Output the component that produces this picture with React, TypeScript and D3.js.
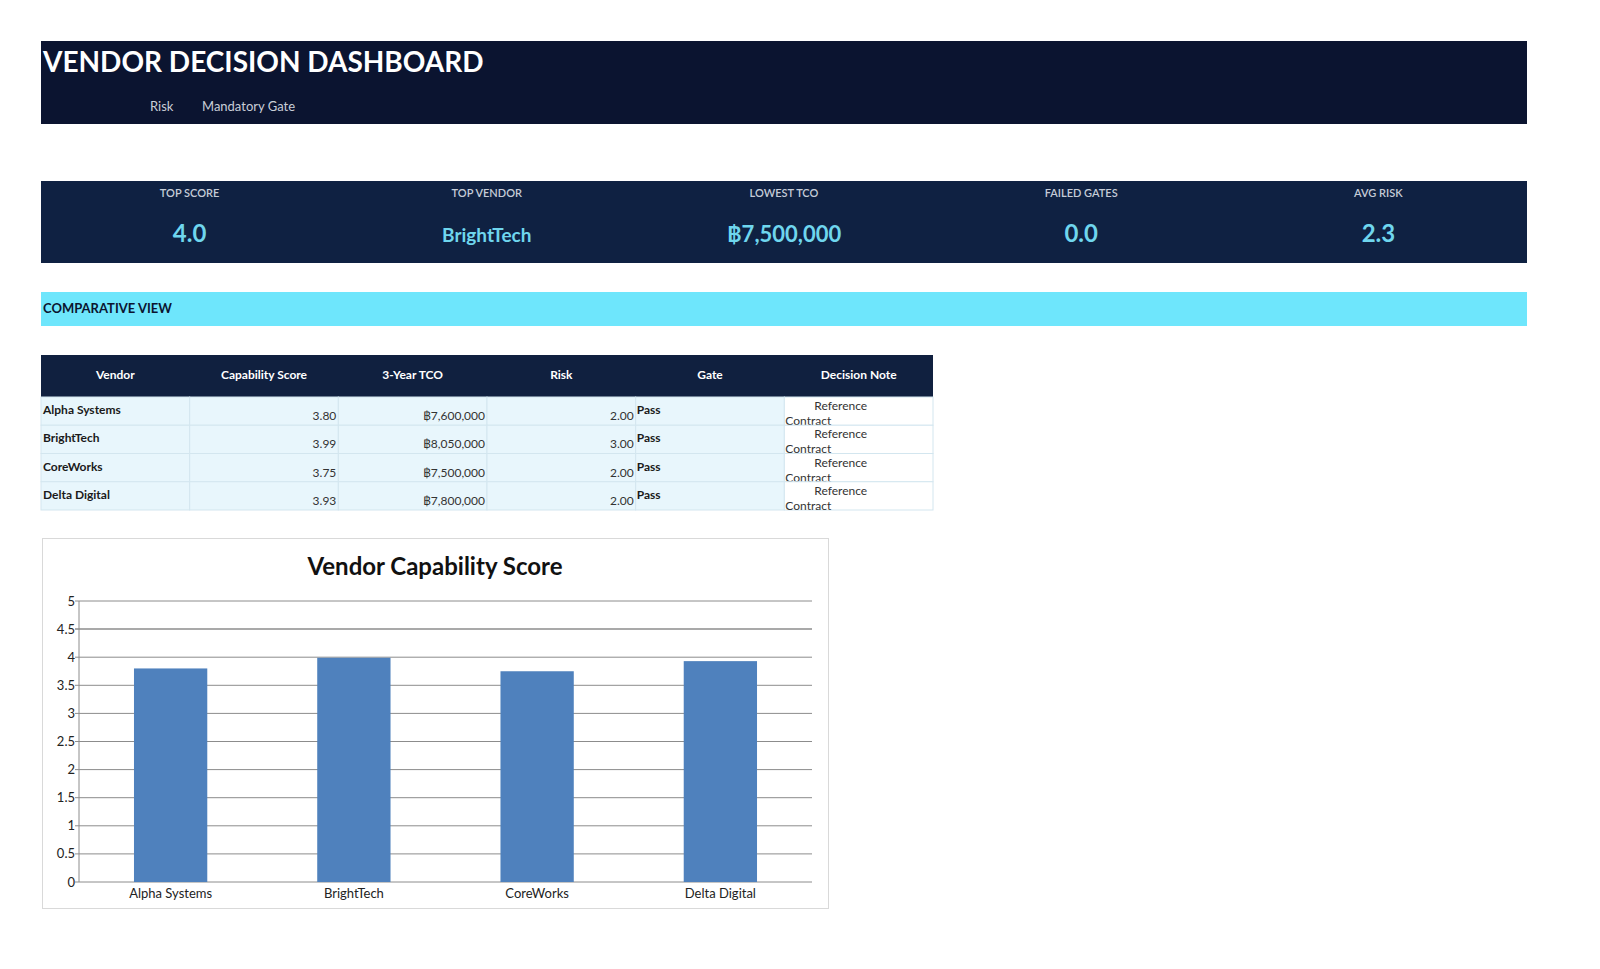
import React from "react";
import * as d3 from "d3";

const vendors = ["Alpha Systems", "BrightTech", "CoreWorks", "Delta Digital"];
const capabilityScores = [3.8, 3.99, 3.75, 3.93];
const tco = [7600000, 8050000, 7500000, 7800000];
const risk = [2.0, 3.0, 2.0, 2.0];
const gates = ["Pass", "Pass", "Pass", "Pass"];
const notes = ["Reference Contract", "Reference Contract", "Reference Contract", "Reference Contract"];
const tableHeaders = ["Vendor", "Capability Score", "3-Year TCO", "Risk", "Gate", "Decision Note"];
const kpiLabels = ["TOP SCORE", "TOP VENDOR", "LOWEST TCO", "FAILED GATES", "AVG RISK"];
const kpiValues = ["4.0", "BrightTech", "฿7,500,000", "0.0", "2.3"];
const headerLinks = ["Risk", "Mandatory Gate"];
const yTicks = [0, 0.5, 1, 1.5, 2, 2.5, 3, 3.5, 4, 4.5, 5];

const FONT = "Lato, 'Open Sans', sans-serif";
const fmtTco = (v: number) => "฿" + d3.format(",")(v);

export default function App() {
  const L = 41, R = 1527;
  const kpiX = d3.scaleBand<number>().domain(d3.range(5)).range([L, R]);
  const colX = d3.scaleBand<number>().domain(d3.range(6)).range([41, 933]);
  const rowY = d3.scaleBand<number>().domain(d3.range(4)).range([397, 510]);

  const plot = { x0: 79, x1: 812, y0: 601, y1: 882 };
  const x = d3.scaleBand<string>().domain(vendors).range([plot.x0, plot.x1]).paddingInner(0.6).paddingOuter(0.3);
  const y = d3.scaleLinear().domain([0, 5]).range([plot.y1, plot.y0]);

  return (
    <svg width={1600} height={969} style={{ position: "absolute", left: 0, top: 0, fontFamily: FONT }}>
      <rect width={1600} height={969} fill="#ffffff" />
      {/* Header banner */}
      <rect x={L} y={41} width={R - L} height={83} fill="#0b1430" />
      <text x={43} y={72} fill="#ffffff" fontSize={28} fontWeight={700}>VENDOR DECISION DASHBOARD</text>
      <text x={150} y={111} fill="#c9ced8" fontSize={13}>{headerLinks[0]}</text>
      <text x={202} y={111} fill="#c9ced8" fontSize={13}>{headerLinks[1]}</text>

      {/* KPI band */}
      <rect x={L} y={181} width={R - L} height={82} fill="#0f2142" />
      {kpiLabels.map((lab, i) => {
        const cx = kpiX(i)! + kpiX.bandwidth() / 2;
        return (
          <g key={lab}>
            <text x={cx} y={197} textAnchor="middle" fill="#c5ccd8" fontSize={11} fontWeight={600}>{lab}</text>
            <text x={cx} y={242} textAnchor="middle" fill="#6fd6ee" fontSize={i === 1 ? 19 : i === 2 ? 22 : 24} fontWeight={700}>{kpiValues[i]}</text>
          </g>
        );
      })}

      {/* Comparative view */}
      <rect x={L} y={292} width={R - L} height={34} fill="#6ee6fc" />
      <text x={43} y={313} fill="#0b1430" fontSize={13} fontWeight={700}>COMPARATIVE VIEW</text>

      {/* Table header */}
      <rect x={41} y={355} width={892} height={42} fill="#10203f" />
      {tableHeaders.map((h, i) => (
        <text key={h} x={colX(i)! + colX.bandwidth() / 2} y={379} textAnchor="middle" fill="#ffffff" fontSize={12} fontWeight={700}>{h}</text>
      ))}
      {/* Table rows */}
      {vendors.map((v, r) => {
        const ry = rowY(r)!;
        const rh = rowY.bandwidth();
        const cells = [v, capabilityScores[r].toFixed(2), fmtTco(tco[r]), risk[r].toFixed(2), gates[r], notes[r]];
        return (
          <g key={v}>
            {cells.map((c, i) => (
              <rect key={i} x={colX(i)!} y={ry} width={colX.bandwidth()} height={rh} fill={i === 5 ? "#ffffff" : "#e8f6fc"} stroke="#d3e6ef" strokeWidth={1} />
            ))}
            <text x={43} y={ry + 17} fontSize={12} fontWeight={700} fill="#1a1a1a">{v}</text>
            <text x={colX(1)! + colX.bandwidth() - 2} y={ry + 23} textAnchor="end" fontSize={12} fill="#333">{cells[1]}</text>
            <text x={colX(2)! + colX.bandwidth() - 2} y={ry + 23} textAnchor="end" fontSize={12} fill="#333">{cells[2]}</text>
            <text x={colX(3)! + colX.bandwidth() - 2} y={ry + 23} textAnchor="end" fontSize={12} fill="#333">{cells[3]}</text>
            <text x={colX(4)! + 1} y={ry + 17} fontSize={12} fontWeight={700} fill="#1a1a1a">{cells[4]}</text>
            <text x={colX(5)! + 30} y={ry + 13} fontSize={12} fill="#333">{notes[r].split(" ")[0]}</text>
            <text x={colX(5)! + 1} y={ry + 28} fontSize={12} fill="#333">{notes[r].split(" ")[1]}</text>
          </g>
        );
      })}

      {/* Chart box */}
      <rect x={42.5} y={538.5} width={786} height={370} fill="#ffffff" stroke="#d9d9d9" strokeWidth={1} />
      <text x={435} y={575} textAnchor="middle" fontSize={24} fontWeight={700} fill="#111">Vendor Capability Score</text>
      {yTicks.map((t) => (
        <g key={t}>
          <line x1={plot.x0 - 4} x2={plot.x1} y1={y(t)} y2={y(t)} stroke="#8c8c8c" strokeWidth={t === 4.5 ? 1.5 : 1} />
          <text x={plot.x0 - 4} y={y(t) + 4.5} textAnchor="end" fontSize={13} fill="#222">{t}</text>
        </g>
      ))}
      <line x1={plot.x0} x2={plot.x0} y1={plot.y0} y2={plot.y1} stroke="#8c8c8c" />
      {vendors.map((v, i) => (
        <g key={v}>
          <rect x={x(v)!} y={y(capabilityScores[i])} width={x.bandwidth()} height={y(0) - y(capabilityScores[i])} fill="#4f81bd" />
          <text x={x(v)! + x.bandwidth() / 2} y={898} textAnchor="middle" fontSize={13} fill="#222">{v}</text>
        </g>
      ))}
    </svg>
  );
}
